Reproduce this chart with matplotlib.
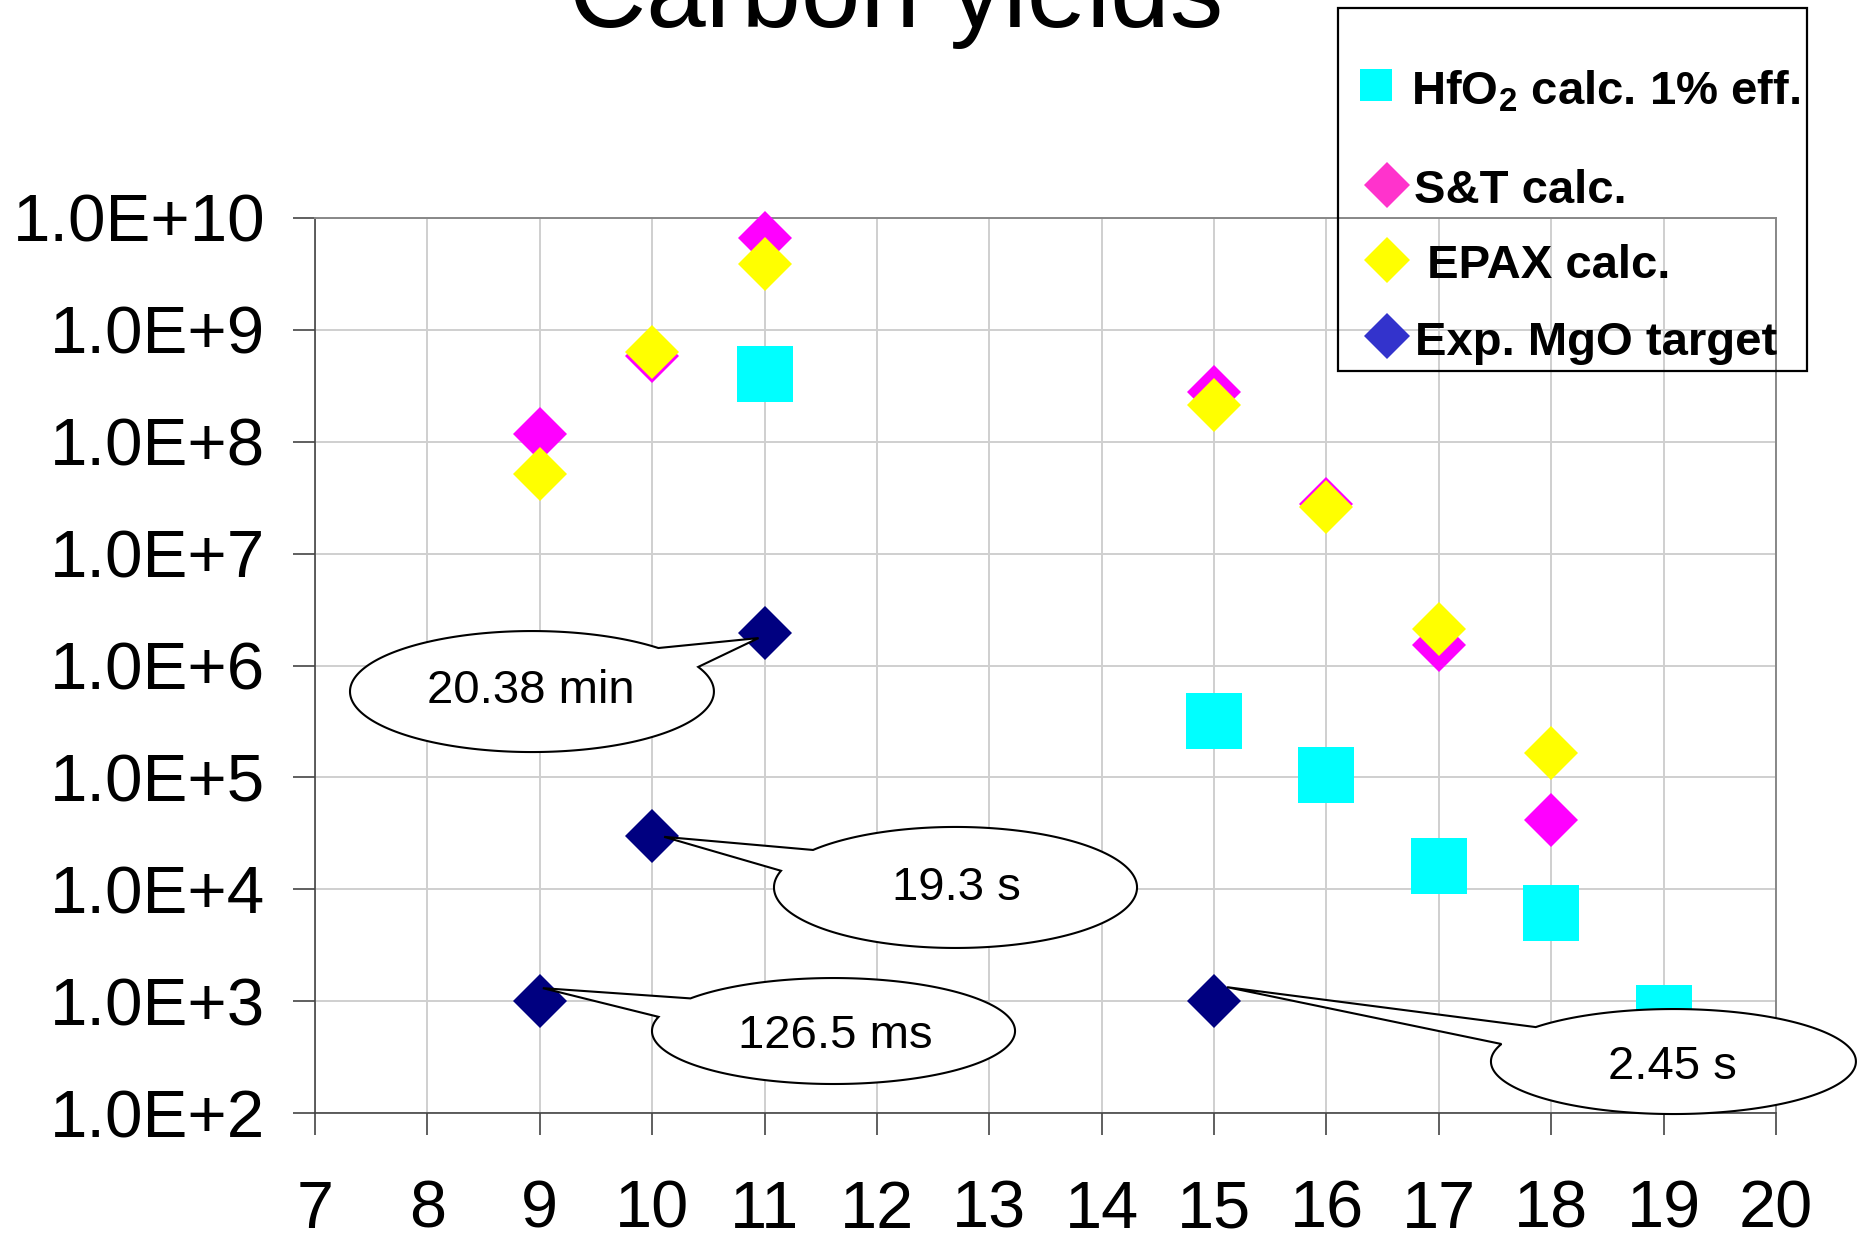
import numpy as np
import matplotlib.pyplot as plt
from matplotlib.patches import Polygon, Rectangle
from matplotlib.lines import Line2D

plt.rcParams['font.family'] = ['Liberation Sans', 'DejaVu Sans']
plt.rcParams['mathtext.fontset'] = 'custom'
plt.rcParams['mathtext.rm'] = 'Liberation Sans'
plt.rcParams['mathtext.bf'] = 'Liberation Sans:bold'

# carbon isotope yields vs mass number
x_hfo2 = [11, 15, 16, 17, 18, 19]
y_hfo2 = [4.0e8, 3.2e5, 1.06e5, 1.6e4, 6.1e3, 7.8e2]

x_st = [9, 10, 11, 15, 16, 17, 18]
y_st = [1.17e8, 5.9e8, 6.6e9, 2.8e8, 2.78e7, 1.53e6, 4.17e4]

x_epax = [9, 10, 11, 15, 16, 17, 18]
y_epax = [5.13e7, 6.4e8, 3.9e9, 2.13e8, 2.61e7, 2.11e6, 1.66e5]

x_exp = [9, 10, 11, 15]
y_exp = [1.0e3, 3.0e4, 1.95e6, 1.0e3]
half_lives = ['126.5 ms', '19.3 s', '20.38 min', '2.45 s']

x_ticks = list(range(7, 21))
y_ticks = [1e2, 1e3, 1e4, 1e5, 1e6, 1e7, 1e8, 1e9, 1e10]
y_tick_labels = ['1.0E+2', '1.0E+3', '1.0E+4', '1.0E+5', '1.0E+6',
                 '1.0E+7', '1.0E+8', '1.0E+9', '1.0E+10']

legend_labels = [r'HfO$_\mathbf{2}$ calc. 1% eff.', 'S&T calc.', ' EPAX calc.', 'Exp. MgO target']

W, H = 1861, 1245
fig = plt.figure(figsize=(W / 100, H / 100), dpi=100)
ax = fig.add_axes([315 / W, 132 / H, 1461 / W, 895 / H])

ax.set_yscale('log')
ax.set_xlim(7, 20)
ax.set_ylim(1e2, 1e10)
ax.set_xticks(x_ticks)
ax.set_xticklabels([str(t) for t in x_ticks])
ax.set_yticks(y_ticks)
ax.set_yticklabels(y_tick_labels)
ax.yaxis.set_minor_locator(plt.NullLocator())
ax.grid(True, color='#cfcfcf', lw=1.4)
ax.set_axisbelow(True)

ax.tick_params(axis='both', direction='out', length=16, width=1.2, color='#444444')
ax.tick_params(axis='y', labelsize=48.5, pad=20)
ax.tick_params(axis='x', labelsize=48, pad=32)
for side in ['left', 'bottom']:
    ax.spines[side].set_color('#444444')
    ax.spines[side].set_linewidth(1.2)
for side in ['top', 'right']:
    ax.spines[side].set_color('#888888')
    ax.spines[side].set_linewidth(1.4)

ax.plot(x_hfo2, y_hfo2, ls='none', marker='s', ms=41, mew=0, color='#00FFFF', zorder=3, clip_on=False)
ax.plot(x_st, y_st, ls='none', marker='D', ms=27, mew=0, color='#FF00FF', zorder=3, clip_on=False)
ax.plot(x_epax, y_epax, ls='none', marker='D', ms=27, mew=0, color='#FFFF00', zorder=3, clip_on=False)
ax.plot(x_exp, y_exp, ls='none', marker='D', ms=27, mew=0, color='#000080', zorder=3, clip_on=False)

# callout balloons for the measured half-lives (axes fraction coords)
# center, width, height, gap angles on the ellipse, text baseline, tip nudge
callouts = [
    dict(c=(0.3549, 0.0916), w=0.2485, h=0.1184, gap=(142, 164.5), tx=(0.3563, 0.0726), nudge=(0.0021, 0.0145)),
    dict(c=(0.4384, 0.2520), w=0.2485, h=0.1352, gap=(141.7, 164), tx=(0.4391, 0.2380), nudge=(0.0082, -0.0011)),
    dict(c=(0.1485, 0.4709), w=0.2491, h=0.1352, gap=(24, 46), tx=(0.1478, 0.4581), nudge=(-0.0041, -0.0056)),
    dict(c=(0.9298, 0.0575), w=0.2498, h=0.1173, gap=(139, 160.5), tx=(0.9292, 0.0380), nudge=(0.0089, 0.0156)),
]

to_axes = ax.transData + ax.transAxes.inverted()
for xi, yi, label, co in zip(x_exp, y_exp, half_lives, callouts):
    tip = to_axes.transform((xi, yi)) + np.array(co['nudge'])
    cx, cy = co['c']
    t0, t1 = co['gap']
    t = np.radians(np.linspace(t1, t0 + 360, 240))
    arc = np.column_stack([cx + co['w'] / 2 * np.cos(t), cy + co['h'] / 2 * np.sin(t)])
    pts = np.vstack([arc, tip])
    balloon = Polygon(pts, closed=True, transform=ax.transAxes, fc='white', ec='black',
                      lw=1.5, joinstyle='miter', zorder=6, clip_on=False)
    ax.add_patch(balloon)
    ax.text(co['tx'][0], co['tx'][1], label, transform=ax.transAxes, fontsize=34,
            ha='center', va='baseline', zorder=7, clip_on=False)

# legend box
fig.add_artist(Rectangle((1338 / W, 1 - 371 / H), 469 / W, 363 / H, transform=fig.transFigure,
                         fill=False, ec='black', lw=1.6))
leg_markers = [('s', 23, '#00FFFF', 1376, 85),
               ('D', 23, '#FF33CC', 1387, 185),
               ('D', 23, '#FFFF00', 1387, 260),
               ('D', 23, '#3333CC', 1387, 336)]
leg_text_pos = [(1411, 104), (1414, 203), (1414, 278), (1415, 355)]
for (mk, ms, col, px, py), label, (tx, ty) in zip(leg_markers, legend_labels, leg_text_pos):
    fig.add_artist(Line2D([px / W], [1 - py / H], transform=fig.transFigure, ls='none',
                          marker=mk, ms=ms, mew=0, color=col))
    fig.text(tx / W, 1 - ty / H, label, fontsize=34, fontweight='bold', ha='left', va='baseline')

fig.text(896 / W, 1 - 27 / H, 'Carbon yields', fontsize=77, ha='center', va='baseline')

fig.savefig('out.png', dpi=100)
